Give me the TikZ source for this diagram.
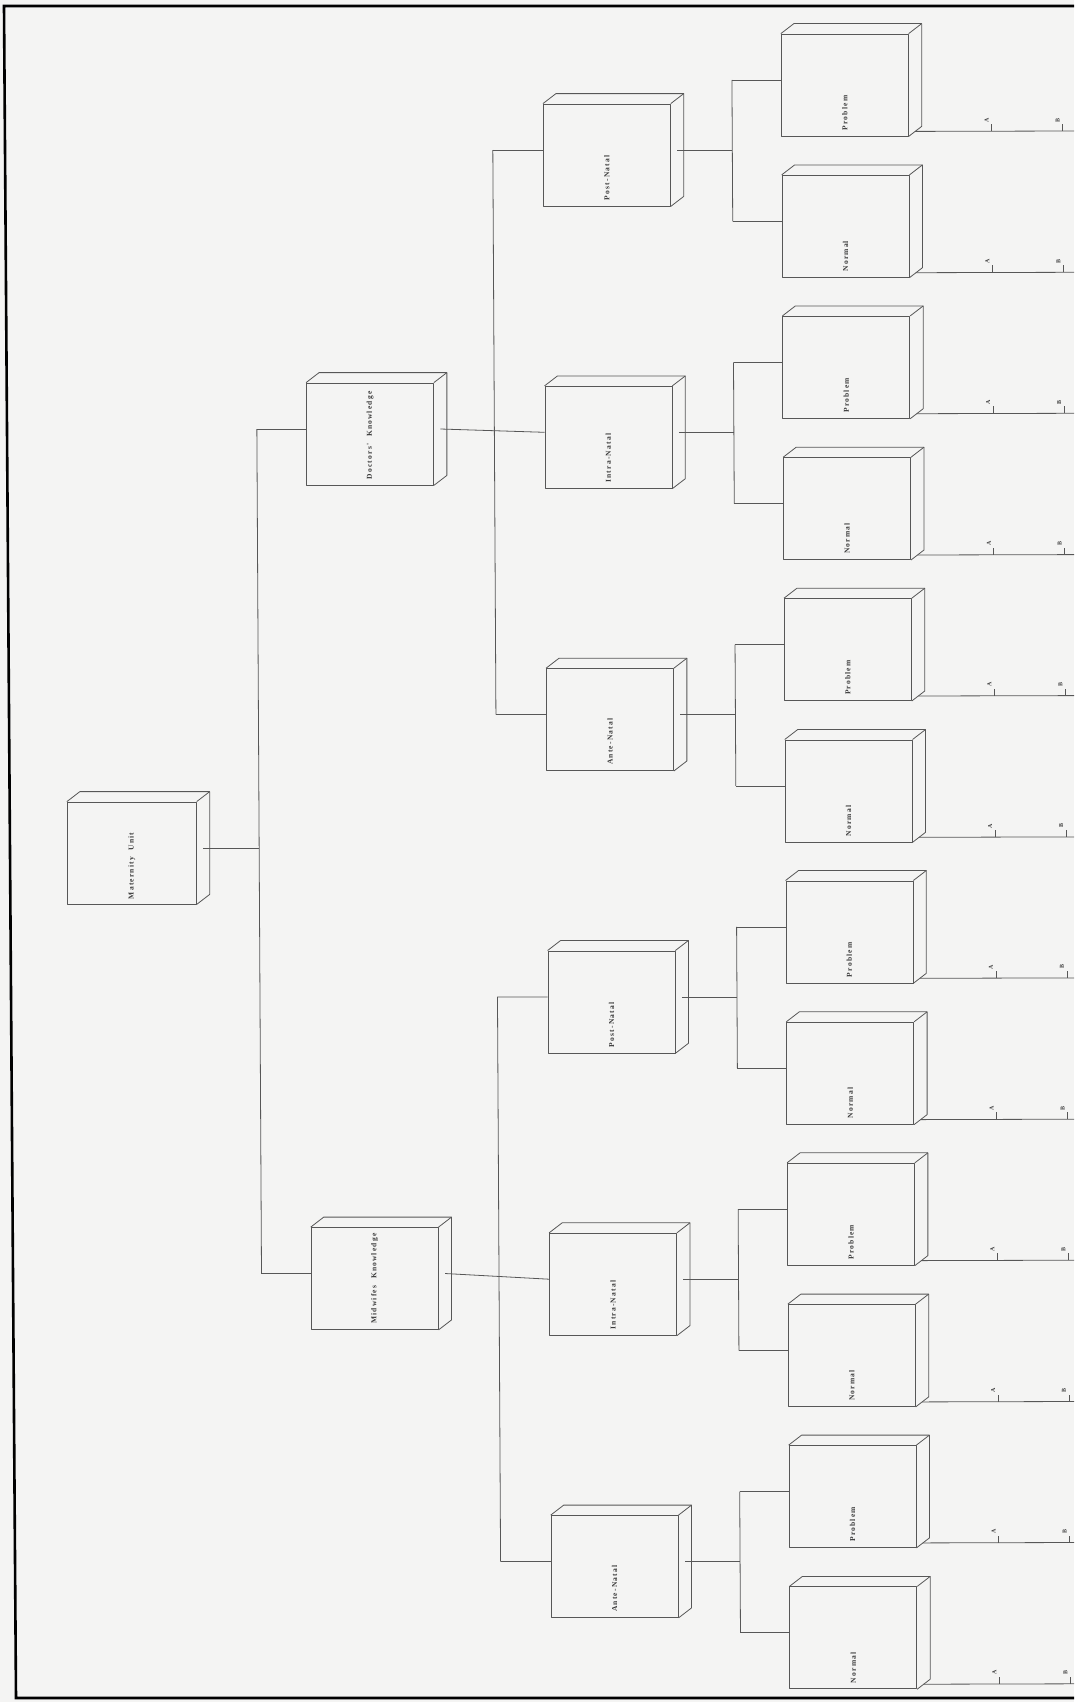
\documentclass[tikz,border=0pt]{standalone}
\usepackage{fontspec}
\newfontfamily\lblfont[LetterSpace=16,WordSpace=2.2]{Liberation Serif}
\definecolor{ink}{HTML}{575757}
\definecolor{txt}{HTML}{3A3A3A}
\definecolor{paper}{HTML}{F4F4F3}
\newcommand\sk{0.0055}
\newcommand\cubefaces[1]{%
 \draw[boxline] (#1.north west) -- ++(13,10) -- ([shift={(13,10)}]#1.north east) -- ([shift={(13,10)}]#1.south east) -- (#1.south east);
 \draw[boxline] (#1.north east) -- ++(13,10);}
\newcommand\leafline[2]{%
 \pgfmathsetmacro\ly{#2+46}%
 \coordinate (#1e) at (1074,{-\ly});
 \coordinate (#1a) at ({991+0.005*\ly},{-\ly});
 \coordinate (#1b) at ({1062+0.005*\ly},{-\ly});
 \draw[conn] ([shift={(6.5,5)}]#1.south east) -- (#1e);
 \draw[conn] (#1a) -- ++(0,7);
 \draw[conn] (#1b) -- ++(0,7);
 \node[ticklbl] (#1la) at ([shift={(-5,11)}]#1a) {A};
 \node[ticklbl] (#1lb) at ([shift={(-5,11)}]#1b) {B};}
\begin{document}
\begin{tikzpicture}[x=1pt,y=1pt,
 boxline/.style={draw=ink, line width=0.8pt, line join=round},
 cube/.style={boxline, rectangle, minimum width=127pt, minimum height=102pt, inner sep=0pt, fill=paper},
 conn/.style={draw=ink, line width=0.8pt},
 lbl/.style={rotate=90, anchor=west, inner sep=0pt, text=txt, font=\lblfont\bfseries\fontsize{7.5}{9}\selectfont},
 ticklbl/.style={rotate=90, inner sep=0pt, text=txt, font=\lblfont\bfseries\fontsize{6}{7}\selectfont}]
\useasboundingbox (0,0) rectangle (1074,-1702);
\fill[paper] (0,0) rectangle (1074,-1702);
\draw[line width=2.6pt, black, line join=miter] (1074,-6) -- (4,-6) -- (16,-1698) -- (1074,-1698);

% root and second level
\node[cube, minimum width=129pt] (MU) at ({127.1+\sk*853},-853) {};
\cubefaces{MU}
\node[lbl] (TMU) at ([yshift=5pt]MU.south) {Maternity Unit};
\node[cube] (DK) at ({367.6+\sk*434},-434) {};
\cubefaces{DK}
\node[lbl] (TDK) at ([yshift=6pt]DK.south) {Doctors' Knowledge};
\node[cube] (MK) at ({367.6+\sk*1278.5},-1278.5) {};
\cubefaces{MK}
\node[lbl] (TMK) at ([yshift=6pt]MK.south) {Midwifes Knowledge};

% third level and leaves
\foreach \j/\lab in {0/Post-Natal,1/Intra-Natal,2/Ante-Natal,3/Post-Natal,4/Intra-Natal,5/Ante-Natal}{
  \pgfmathsetmacro\yc{155+282.3*\j}
  \pgfmathsetmacro\yp{85+282.3*\j}
  \pgfmathsetmacro\yn{226.3+282.3*\j}
  \node[cube] (L\j) at ({606+\sk*\yc},{-\yc}) {};
  \cubefaces{L\j}
  \node[lbl] (TL\j) at ([yshift=6pt]L\j.south) {\lab};
  \node[cube] (P\j) at ({844.3+\sk*\yp},{-\yp}) {};
  \cubefaces{P\j}
  \node[lbl] (TP\j) at ([yshift=6pt]P\j.south) {Problem};
  \node[cube] (N\j) at ({844.3+\sk*\yn},{-\yn}) {};
  \cubefaces{N\j}
  \node[lbl] (TN\j) at ([yshift=6pt]N\j.south) {Normal};
  \coordinate (BT\j) at ({731.5+\sk*(\yp-5)},{-(\yp-5)});
  \coordinate (BB\j) at ({731.5+\sk*(\yn-5)},{-(\yn-5)});
  \coordinate (BM\j) at ({731.5+\sk*(\yc-5)},{-(\yc-5)});
  \draw[conn] (BT\j) -- (BB\j);
  \draw[conn] ([shift={(6.5,5)}]L\j.east) -- (BM\j);
  \draw[conn] (BT\j) -- ([yshift=5pt]P\j.west);
  \draw[conn] (BB\j) -- ([yshift=5pt]N\j.west);
  \leafline{P\j}{\yp}
  \leafline{N\j}{\yn}
}

% root bracket
\coordinate (B1M) at ({254.5+\sk*848},-848);
\coordinate (B1T) at ({254.5+\sk*429},-429);
\coordinate (B1B) at ({254.5+\sk*1273.5},-1273.5);
\draw[conn] ([shift={(6.5,5)}]MU.east) -- (B1M);
\draw[conn] (B1T) -- (B1B);
\draw[conn] (B1T) -- ([yshift=5pt]DK.west);
\draw[conn] (B1B) -- ([yshift=5pt]MK.west);

% doctors bracket
\coordinate (B2T) at ({492+\sk*150},-150);
\coordinate (B2B) at ({492+\sk*714.6},-714.6);
\draw[conn] (B2T) -- (B2B);
\draw[conn] (B2T) -- ([yshift=5pt]L0.west);
\draw[conn] (B2B) -- ([yshift=5pt]L2.west);
\draw[conn] ([shift={(6.5,5)}]DK.east) -- ([yshift=5pt]L1.west);

% midwifes bracket
\coordinate (B3T) at ({492+\sk*996.9},-996.9);
\coordinate (B3B) at ({492+\sk*1561.5},-1561.5);
\draw[conn] (B3T) -- (B3B);
\draw[conn] (B3T) -- ([yshift=5pt]L3.west);
\draw[conn] (B3B) -- ([yshift=5pt]L5.west);
\draw[conn] ([shift={(6.5,5)}]MK.east) -- ([yshift=5pt]L4.west);
\end{tikzpicture}
\end{document}
